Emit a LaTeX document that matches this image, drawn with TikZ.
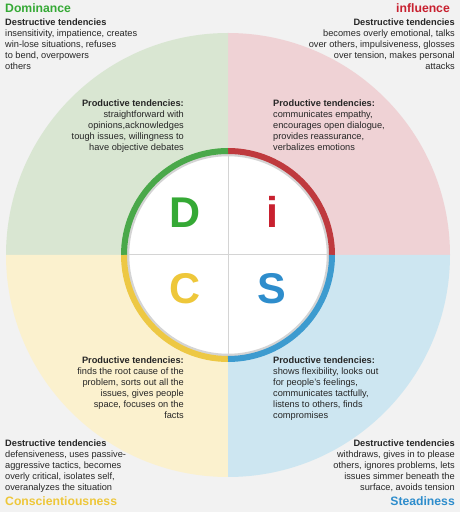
\documentclass[tikz,border=0pt]{standalone}
\usepackage{fontspec}
\setmainfont{Liberation Sans}
\usetikzlibrary{positioning}
\definecolor{bgGray}{HTML}{F2F2F2}
\definecolor{dGreen}{HTML}{4AA84A}
\definecolor{dGreenLt}{HTML}{D9E6D2}
\definecolor{dGreenTxt}{HTML}{35A935}
\definecolor{iRed}{HTML}{BF3A3E}
\definecolor{iRedLt}{HTML}{EFD2D5}
\definecolor{iRedTxt}{HTML}{C8202F}
\definecolor{cYellow}{HTML}{EDC844}
\definecolor{cYellowLt}{HTML}{FBF1CE}
\definecolor{cYellowTxt}{HTML}{EEC73A}
\definecolor{sBlue}{HTML}{3D9BCF}
\definecolor{sBlueLt}{HTML}{CDE6F1}
\definecolor{sBlueTxt}{HTML}{2E8DCC}
\definecolor{ringGray}{HTML}{D4D4D4}
\tikzset{
  title/.style={font=\fontsize{12.2}{14}\selectfont\bfseries, inner sep=0},
  body/.style={font=\fontsize{9.25}{11}\selectfont, inner sep=0, text=black!85},
  letter/.style={font=\fontsize{43}{43}\selectfont\bfseries, inner sep=0, anchor=base},
}
\begin{document}
\begin{tikzpicture}[x=1pt, y=1pt]
  \useasboundingbox (0,0) rectangle (460,512);
  \fill[bgGray] (0,0) rectangle (460,512);
  \coordinate (ctr) at (228,257);
  % quadrants of the big circle
  \foreach \col/\a in {iRedLt/0, dGreenLt/90, cYellowLt/180, sBlueLt/270}{
    \fill[\col] (ctr) -- ++(\a:222) arc (\a:\a+90:222) -- cycle;
  }
  % inner disc with coloured ring
  \fill[white] (ctr) circle (100);
  \draw[ringGray, line width=2.5] (ctr) circle (100);
  \foreach \col/\a in {iRed/0, dGreen/90, cYellow/180, sBlue/270}{
    \draw[\col, line width=6] (ctr) ++(\a:104) arc (\a:\a+90:104);
  }
  \draw[ringGray, line width=1] (ctr) ++(-99,0) -- ++(198,0);
  \draw[ringGray, line width=1] (ctr) ++(0,-99) -- ++(0,198);
  % letters
  \node[letter, text=dGreenTxt]  (letD) at (185,284.7) {D};
  \node[letter, text=iRedTxt]    (letI) at (272,284.7) {i};
  \node[letter, text=cYellowTxt] (letC) at (185,208) {C};
  \node[letter, text=sBlueTxt]   (letS) at (272,208) {S};
  % titles
  \node[title, text=dGreenTxt, anchor=base west]  (domTitle) at (5,499) {Dominance};
  \node[title, text=iRedTxt, anchor=base east]    (infTitle) at (450,499) {influence};
  \node[title, text=cYellowTxt, anchor=base west] (conTitle) at (5,6) {Conscientiousness};
  \node[title, text=sBlueTxt, anchor=base east]   (steTitle) at (455,6) {Steadiness};
  % destructive tendencies
  \node[body, anchor=north west, align=left] (domBad) at (5,493)
    {\textbf{Destructive tendencies}\\insensitivity, impatience, creates\\win-lose situations, refuses\\to bend, overpowers\\others};
  \node[body, anchor=north east, align=right] (infBad) at (455,493)
    {\textbf{Destructive tendencies}\\becomes overly emotional, talks\\over others, impulsiveness, glosses\\over tension, makes personal\\attacks};
  \node[body, anchor=north west, align=left] (conBad) at (5,72.5)
    {\textbf{Destructive tendencies}\\defensiveness, uses passive-\\aggressive tactics, becomes\\overly critical, isolates self,\\overanalyzes the situation};
  \node[body, anchor=north east, align=right] (steBad) at (455,72.5)
    {\textbf{Destructive tendencies}\\withdraws, gives in to please\\others, ignores problems, lets\\issues simmer beneath the\\surface, avoids tension};
  % productive tendencies
  \node[body, anchor=north east, align=right] (domGood) at (184,412)
    {\textbf{Productive tendencies:}\\straightforward with\\opinions,acknowledges\\tough issues, willingness to\\have objective debates};
  \node[body, anchor=north west, align=left] (infGood) at (273,412)
    {\textbf{Productive tendencies:}\\communicates empathy,\\encourages open dialogue,\\provides reassurance,\\verbalizes emotions};
  \node[body, anchor=north east, align=right] (conGood) at (184,155)
    {\textbf{Productive tendencies:}\\finds the root cause of the\\problem, sorts out all the\\issues, gives people\\space, focuses on the\\facts};
  \node[body, anchor=north west, align=left] (steGood) at (273,155)
    {\textbf{Productive tendencies:}\\shows flexibility, looks out\\for people's feelings,\\communicates tactfully,\\listens to others, finds\\compromises};
\end{tikzpicture}
\end{document}
